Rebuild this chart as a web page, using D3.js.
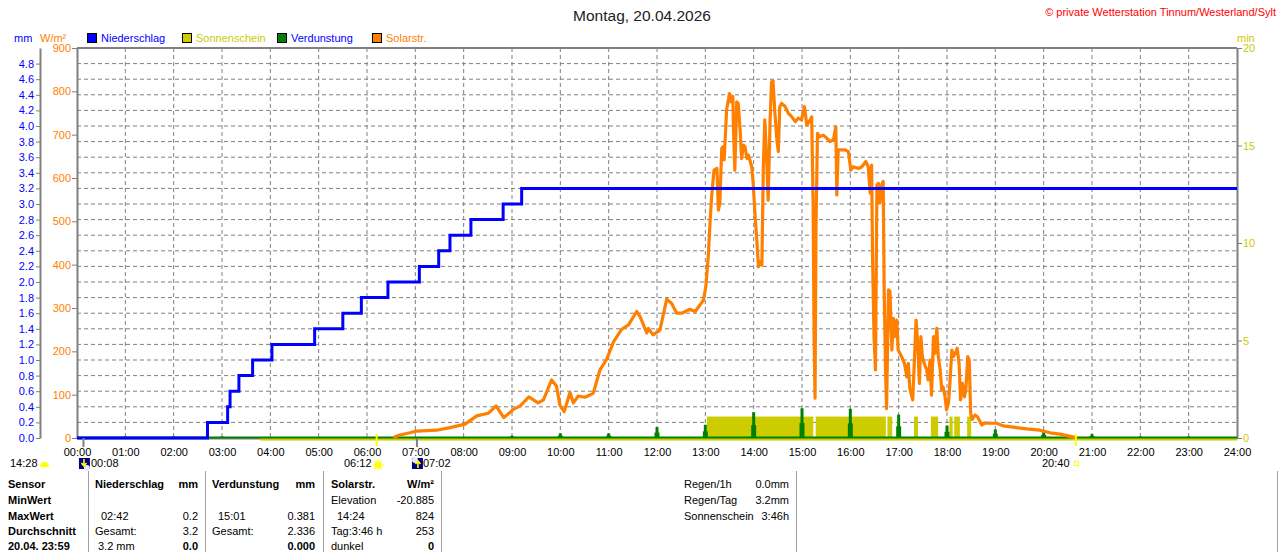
<!DOCTYPE html>
<html>
<head>
<meta charset="utf-8">
<script src="https://cdnjs.cloudflare.com/ajax/libs/d3/7.8.5/d3.min.js"></script>
<style>
  body { margin: 0; background: #fff; }
  svg text { font-family: "Liberation Sans", Arial, sans-serif; font-size: 11px; }
</style>
</head>
<body>
<svg id="chart" width="1280" height="552"></svg>
<script>
// ---- data ----
// Niederschlag (cumulative rain, mm) - steps
var rainTimes  = ["00:00","02:42","03:07","03:10","03:21","03:38","04:02","04:55","05:30","05:53","06:26","07:05","07:29","07:43","08:09","08:49","09:12","24:00"];
var rainTotals = [0, 0.2, 0.4, 0.6, 0.8, 1.0, 1.2, 1.4, 1.6, 1.8, 2.0, 2.2, 2.4, 2.6, 2.8, 3.0, 3.2, 3.2];

// Verdunstung per hour (mm)
var evapHours  = [1, 2, 3, 9, 10, 11, 12, 13, 14, 15, 16, 17, 18, 19, 20, 21, 22, 23];
var evapValues = [0.02, 0.02, 0.02, 0.03, 0.06, 0.06, 0.14, 0.17, 0.33, 0.381, 0.375, 0.30, 0.16, 0.11, 0.08, 0.05, 0.02, 0.02];

// Sonnenschein (min per minute) - sunny periods
var sunStart = ["13:02","15:17","16:46","17:19","17:40","18:03","18:09","18:25"];
var sunEnd   = ["15:14","16:44","16:52","17:24","17:49","18:07","18:16","18:30"];
var sunValue = 1.1;
var sunDataFrom = "03:47";

// Solarstrahlung (W/m2) - time in decimal hours
var solarHours = [6.55,6.58,6.68,6.89,7.03,7.44,7.72,8.03,8.27,8.51,8.67,8.83,9.03,9.17,9.35,9.54,9.65,9.82,9.92,9.99,
  10.08,10.20,10.27,10.37,10.51,10.68,10.82,10.96,11.10,11.27,11.41,11.58,11.65,11.79,11.82,11.92,12.06,12.20,12.30,12.41,
  12.51,12.68,12.79,12.96,13.01,13.06,13.10,13.13,13.18,13.24,13.27,13.30,13.34,13.37,13.39,13.44,13.50,13.52,13.57,13.58,
  13.61,13.65,13.68,13.72,13.75,13.79,13.82,13.86,13.89,13.92,13.96,13.99,14.03,14.06,14.10,14.13,14.17,14.20,14.23,14.27,
  14.30,14.34,14.37,14.40,14.44,14.48,14.51,14.54,14.58,14.65,14.72,14.79,14.86,14.92,14.99,15.05,15.10,15.17,15.20,15.23,
  15.25,15.27,15.29,15.32,15.36,15.44,15.51,15.58,15.65,15.70,15.72,15.75,15.82,15.89,15.96,16.01,16.06,16.17,16.24,16.32,
  16.37,16.41,16.44,16.46,16.49,16.52,16.55,16.58,16.61,16.65,16.68,16.70,16.73,16.75,16.79,16.82,16.86,16.89,16.92,16.96,
  16.99,17.06,17.12,17.17,17.20,17.23,17.29,17.32,17.36,17.39,17.43,17.46,17.49,17.53,17.58,17.61,17.65,17.68,17.72,17.75,
  17.79,17.82,17.86,17.89,17.92,17.96,17.99,18.03,18.06,18.10,18.13,18.17,18.21,18.25,18.28,18.32,18.36,18.39,18.43,18.46,
  18.49,18.52,18.58,18.63,18.72,18.79,18.89,19.03,19.16,19.37,19.65,19.92,20.13,20.34,20.50,20.63,20.67];
var solarValues = [0,3,7,12,16,18,24,32,51,57,74,47,66,74,95,81,88,134,120,76,
  61,105,81,97,94,103,157,182,222,251,261,292,280,242,253,238,249,320,311,288,
  288,297,292,318,349,418,503,557,618,622,526,542,669,672,642,757,795,776,788,722,
  618,776,772,711,645,676,672,645,653,642,626,588,511,465,395,407,399,626,734,642,
  549,734,822,824,749,688,661,765,772,765,749,741,730,738,734,765,722,734,741,542,
  234,92,488,703,695,699,692,684,688,718,561,665,665,665,661,618,626,622,626,638,
  626,565,630,418,234,157,584,588,542,584,592,342,149,68,342,338,203,276,234,272,
  203,188,172,141,172,115,88,165,272,226,126,234,188,172,157,134,180,99,234,195,
  253,188,157,111,118,95,65,80,126,203,188,195,207,172,88,126,95,111,188,180,
  57,43,53,49,30,35,34,34,28,25,21,18,12,9,5,2,0];

// sun / moon events
var moonDown = "00:08", moonUp = "07:02";
var sunRise = "06:12", sunSet = "20:40";
var dayLength = "14:28";

// axis tick values
var hourTicks  = d3.range(0, 25);
var mmTicks    = d3.range(0, 4.81, 0.2);
var mmGrid     = d3.range(0.2, 4.81, 0.2);
var solarTicks = d3.range(0, 901, 100);
var minTicks   = [0, 5, 10, 15, 20];

// legend
var legendItems = [
  {name: "Niederschlag", box: "#0000ff", text: "#0000ff"},
  {name: "Sonnenschein", box: "#cccc00", text: "#cccc00"},
  {name: "Verdunstung",  box: "#008000", text: "#0000ff"},
  {name: "Solarstr.",    box: "#ff8000", text: "#ff8000"}
];

// table below the chart
var tableRows = ["Sensor", "MinWert", "MaxWert", "Durchschnitt", "20.04. 23:59"];
var rainCells  = [["Niederschlag","mm"], ["",""], ["02:42","0.2"], ["Gesamt:","3.2"], ["3.2 mm","0.0"]];
var evapCells  = [["Verdunstung","mm"], ["",""], ["15:01","0.381"], ["Gesamt:","2.336"], ["","0.000"]];
var solarCells = [["Solarstr.","W/m²"], ["Elevation","-20.885"], ["14:24","824"], ["Tag:3:46 h","253"], ["dunkel","0"]];
var infoLabels = ["Regen/1h", "Regen/Tag", "Sonnenschein"];
var infoValues = ["0.0mm", "3.2mm", "3:46h"];

// ---- helpers ----
function hm(s) { var p = s.split(":"); return +p[0] + (+p[1]) / 60; }
function pad(n) { return (n < 10 ? "0" : "") + n; }

var grey = "#808080";
var svg = d3.select("#chart");

// scales
var x = d3.scaleLinear().domain([0, 24]).range([77, 1237]);
var yMM = d3.scaleLinear().domain([0, 5]).range([438, 48]);
var yW = d3.scaleLinear().domain([0, 900]).range([438, 48]);
var yMin = d3.scaleLinear().domain([0, 20]).range([438, 48]);

// title + copyright
svg.append("text").attr("x", 642).attr("y", 21).attr("text-anchor", "middle")
  .style("font-size", "15.5px").style("fill", "#222").text("Montag, 20.04.2026");
svg.append("text").attr("x", 1276).attr("y", 16).attr("text-anchor", "end")
  .style("fill", "#ff0000").text("© private Wetterstation Tinnum/Westerland/Sylt");

// unit labels
svg.append("text").attr("x", 14).attr("y", 42).style("fill", "#0000ff").text("mm");
svg.append("text").attr("x", 40).attr("y", 42).style("fill", "#ff8000").text("W/m²");
svg.append("text").attr("x", 1237).attr("y", 42).style("fill", "#cccc00").text("min");

// legend
var legendX = [87, 182, 277, 372];
var leg = svg.selectAll(".leg").data(legendItems).enter().append("g")
  .attr("transform", function(d, i) { return "translate(" + legendX[i] + ",33)"; });
leg.append("rect").attr("x", 0.5).attr("y", 0.5).attr("width", 9).attr("height", 9)
  .style("fill", function(d) { return d.box; }).style("stroke", "#000");
leg.append("text").attr("x", 14).attr("y", 9).style("fill", function(d) { return d.text; })
  .text(function(d) { return d.name; });

// grid
svg.append("g").selectAll("line").data(mmGrid).enter().append("line")
  .attr("x1", x(0)).attr("x2", x(24))
  .attr("y1", function(d) { return yMM(d); }).attr("y2", function(d) { return yMM(d); })
  .style("stroke", grey).style("stroke-dasharray", "4,3");
svg.append("g").selectAll("line").data(d3.range(1, 24)).enter().append("line")
  .attr("x1", function(d) { return x(d); }).attr("x2", function(d) { return x(d); })
  .attr("y1", yW(900)).attr("y2", yW(0))
  .style("stroke", grey).style("stroke-dasharray", "4,3");

// axes
function styleAxis(g, color) {
  g.attr("font-family", null).attr("font-size", null);
  g.select(".domain").style("stroke", grey).style("stroke-width", 2);
  g.selectAll(".tick line").style("stroke", grey);
  g.selectAll(".tick text").style("fill", color);
}
svg.append("g").attr("transform", "translate(40,0)")
  .call(d3.axisLeft(yMM).tickValues(mmTicks).tickFormat(d3.format(".1f")).tickSize(4).tickSizeOuter(0).tickPadding(2))
  .call(styleAxis, "#0000ff");
svg.append("g").attr("transform", "translate(77,0)")
  .call(d3.axisLeft(yW).tickValues(solarTicks).tickSize(5).tickSizeOuter(0).tickPadding(1))
  .call(styleAxis, "#ff8000");
svg.append("g").attr("transform", "translate(1237,0)")
  .call(d3.axisRight(yMin).tickValues(minTicks).tickSize(5).tickSizeOuter(0).tickPadding(1))
  .call(styleAxis, "#cccc00");
svg.append("g").attr("transform", "translate(0,438)")
  .call(d3.axisBottom(x).tickValues(hourTicks).tickFormat(function(d) { return pad(d) + ":00"; }).tickSize(0).tickPadding(10))
  .call(styleAxis, "#000");
svg.append("line").attr("x1", x(0)).attr("x2", x(24)).attr("y1", yW(900)).attr("y2", yW(900))
  .style("stroke", grey).style("stroke-width", 2);

// sunshine bars
svg.append("g").selectAll("rect").data(sunStart).enter().append("rect")
  .attr("x", function(d) { return x(hm(d)); })
  .attr("width", function(d, i) { return x(hm(sunEnd[i])) - x(hm(d)); })
  .attr("y", yMin(sunValue)).attr("height", yMin(0) - yMin(sunValue))
  .style("fill", "#cccc00");
svg.append("line").attr("x1", x(hm(sunDataFrom))).attr("x2", x(24))
  .attr("y1", yMin(0) + 1).attr("y2", yMin(0) + 1)
  .style("stroke", "#cccc00").style("stroke-width", 3);

// evaporation
svg.append("line").attr("x1", x(0)).attr("x2", x(24)).attr("y1", yMM(0) - 0.5).attr("y2", yMM(0) - 0.5)
  .style("stroke", "#008000").style("stroke-width", 2);
var ev = svg.append("g").selectAll("g").data(evapHours).enter().append("g");
ev.append("rect").attr("x", function(d) { return x(d) - 2.5; }).attr("width", 5)
  .attr("y", function(d, i) { return yMM(evapValues[i] / 2); })
  .attr("height", function(d, i) { return yMM(0) - yMM(evapValues[i] / 2); })
  .style("fill", "#008000");
ev.append("rect").attr("x", function(d) { return x(d) - 1.5; }).attr("width", 3)
  .attr("y", function(d, i) { return yMM(evapValues[i]); })
  .attr("height", function(d, i) { return yMM(0) - yMM(evapValues[i]); })
  .style("fill", "#008000");

// solar radiation line
var solarLine = d3.line().x(function(d) { return x(d[0]); }).y(function(d) { return yW(d[1]); });
svg.append("path").datum(d3.zip(solarHours, solarValues)).attr("d", solarLine)
  .style("fill", "none").style("stroke", "#ff8000").style("stroke-width", 3.2).style("stroke-linejoin", "round");

// rain step line
var rainLine = d3.line().curve(d3.curveStepAfter)
  .x(function(d) { return x(hm(d[0])); }).y(function(d) { return yMM(d[1]); });
svg.append("path").datum(d3.zip(rainTimes, rainTotals)).attr("d", rainLine)
  .style("fill", "none").style("stroke", "#0000ff").style("stroke-width", 3);

// sun / moon markers under the axis
[moonDown, moonUp].forEach(function(t) {
  svg.append("line").attr("x1", x(hm(t))).attr("x2", x(hm(t))).attr("y1", 438).attr("y2", 447)
    .style("stroke", grey).style("stroke-width", 2);
});
[sunRise, sunSet].forEach(function(t) {
  svg.append("line").attr("x1", x(hm(t))).attr("x2", x(hm(t))).attr("y1", 434).attr("y2", 446)
    .style("stroke", "#ffff00").style("stroke-width", 2);
});

// day length
svg.append("text").attr("x", 10).attr("y", 467).text(dayLength);
svg.append("path").attr("d", "M40,467 A4.5,5 0 0 1 49,467 Z").style("fill", "#ffff00");

// moon icons
function moonIcon(left, up) {
  var g = svg.append("g").attr("transform", "translate(" + left + ",458)");
  g.append("rect").attr("width", 11).attr("height", 11).style("fill", "#000080");
  g.append("circle").attr("cx", up ? 3 : 8).attr("cy", up ? 2 : 10).attr("r", 3).style("fill", "#e8e8f8");
  g.append("path").attr("d", up ? "M6,10 L6,4 M3.5,6 L6,3 L8.5,6" : "M5,1 L5,7 M2.5,5 L5,8 L7.5,5")
    .style("stroke", "#ffff00").style("stroke-width", 1.6).style("fill", "none");
}
moonIcon(x(hm(moonDown)) - 4.5, false);
svg.append("text").attr("x", 91).attr("y", 467).text(moonDown);
moonIcon(x(hm(moonUp)) - 5, true);
svg.append("text").attr("x", 423).attr("y", 467).text(moonUp);

// sunrise icon
svg.append("text").attr("x", 344).attr("y", 467).text(sunRise);
var sun = svg.append("g").attr("transform", "translate(378,465)");
sun.selectAll("line").data(d3.range(0, 8)).enter().append("line")
  .attr("x1", function(d) { return 3.5 * Math.cos(d * Math.PI / 4); })
  .attr("y1", function(d) { return 3.5 * Math.sin(d * Math.PI / 4); })
  .attr("x2", function(d) { return 5.5 * Math.cos(d * Math.PI / 4); })
  .attr("y2", function(d) { return 5.5 * Math.sin(d * Math.PI / 4); })
  .style("stroke", "#ffff00").style("stroke-width", 1.2);
sun.append("circle").attr("r", 3.5).style("fill", "#ffff00");

// sunset
svg.append("text").attr("x", 1042).attr("y", 467).text(sunSet);
svg.append("rect").attr("x", 1074.5).attr("y", 461.5).attr("width", 4).attr("height", 4)
  .style("fill", "none").style("stroke", "#ffff00");

// ---- table ----
var rowY = [487.5, 503.5, 519.5, 535, 550];
var seps = [88, 205, 323, 441, 796, 1277];
svg.append("g").selectAll("line").data(seps).enter().append("line")
  .attr("x1", function(d) { return d + 0.5; }).attr("x2", function(d) { return d + 0.5; })
  .attr("y1", 471).attr("y2", 552).style("stroke", "#a0a0a0");

svg.append("g").selectAll("text").data(tableRows).enter().append("text")
  .attr("x", 8).attr("y", function(d, i) { return rowY[i]; })
  .style("font-weight", "bold").text(function(d) { return d; });

function tableColumn(cells, left, right, indent) {
  cells.forEach(function(c, i) {
    var bold = (i == 0);
    var lx = left + (indent[i] || 0);
    svg.append("text").attr("x", lx).attr("y", rowY[i]).style("font-weight", bold ? "bold" : "normal").text(c[0]);
    svg.append("text").attr("x", right).attr("y", rowY[i]).attr("text-anchor", "end")
      .style("font-weight", (i == 0 || i == 4) ? "bold" : "normal").text(c[1]);
  });
}
tableColumn(rainCells, 95, 198, [0, 0, 6, 0, 3]);
tableColumn(evapCells, 212, 315, [0, 0, 6, 0, 0]);
tableColumn(solarCells, 331, 434, [0, 0, 6, 0, 0]);

infoLabels.forEach(function(l, i) {
  svg.append("text").attr("x", 684).attr("y", rowY[i]).text(l);
  svg.append("text").attr("x", 789).attr("y", rowY[i]).attr("text-anchor", "end").text(infoValues[i]);
});
</script>
</body>
</html>
